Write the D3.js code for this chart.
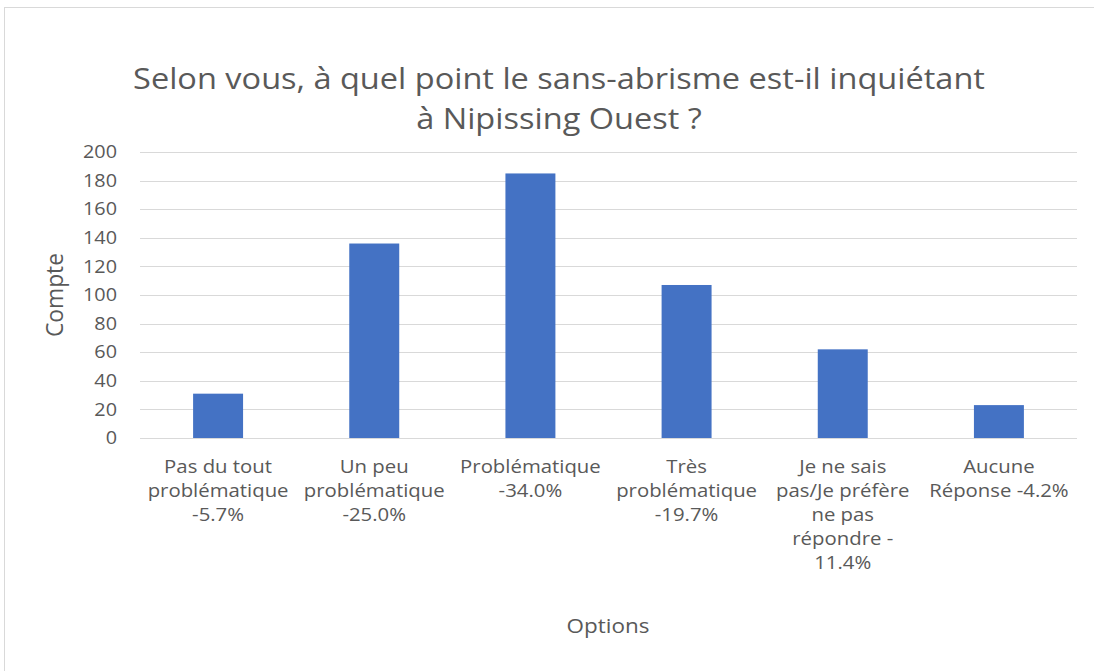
<!DOCTYPE html>
<html><head><meta charset="utf-8">
<script src="https://cdn.jsdelivr.net/npm/d3@7"></script>
<style>html,body{margin:0;padding:0;background:#fff;}svg{display:block;}</style>
</head><body>
<script>
const categories = ["Pas du tout problématique -5.7%","Un peu problématique -25.0%","Problématique -34.0%","Très problématique -19.7%","Je ne sais pas/Je préfère ne pas répondre - 11.4%","Aucune Réponse -4.2%"];
const labelLines = [
  ["Pas du tout","problématique","-5.7%"],
  ["Un peu","problématique","-25.0%"],
  ["Problématique","-34.0%"],
  ["Très","problématique","-19.7%"],
  ["Je ne sais","pas/Je préfère","ne pas","répondre -","11.4%"],
  ["Aucune","Réponse -4.2%"]
];
const counts = [31,136,185,107,62,23];
const yTicks = [0,20,40,60,80,100,120,140,160,180,200];
const titleLines = ["Selon vous, à quel point le sans-abrisme est-il inquiétant","à Nipissing Ouest ?"];
const xTitle = "Options", yTitle = "Compte";

const W=1094,H=671;
const font = "'Open Sans', sans-serif";
const txt = "#595959";
const svg = d3.select("body").append("svg").attr("width",W).attr("height",H);
svg.append("rect").attr("x",4.5).attr("y",7.5).attr("width",1200).attr("height",800)
  .attr("fill","#fff").attr("stroke","#d9d9d9").attr("stroke-width",1);

function stretch(sample, fs, targetW){
  const t=svg.append("text").attr("font-family",font).attr("font-size",fs).text(sample);
  const w=t.node().getComputedTextLength(); t.remove();
  return targetW/w;
}
const fsTitle=29.5, kTitle=stretch(titleLines[0], fsTitle, 852);
const fsCat=17.5, kCat=stretch("problématique", fsCat, 141);
const fsTick=17.5, kTick=stretch("200", fsTick, 34);
const fsAxis=19.5, kAxis=stretch(xTitle, fsAxis, 83);
const fsY = 19.5*stretch(yTitle, 19.5, 84);

const m={l:140,r:1077,t:152,b:438};
const x=d3.scaleBand().domain(categories).range([m.l,m.r]).paddingInner(0.68).paddingOuter(0.34);
const y=d3.scaleLinear().domain([0,200]).range([m.b,m.t]);

svg.append("g").selectAll("line").data(yTicks).join("line")
  .attr("x1",m.l).attr("x2",m.r).attr("y1",d=>Math.round(y(d))+0.5).attr("y2",d=>Math.round(y(d))+0.5)
  .attr("stroke","#d9d9d9").attr("stroke-width",1);

svg.append("g").selectAll("rect").data(counts).join("rect")
  .attr("x",(d,i)=>x(categories[i])).attr("width",x.bandwidth())
  .attr("y",d=>y(d)).attr("height",d=>y(0)-y(d)).attr("fill","#4472C4");

const ya=svg.append("g").attr("transform",`translate(${m.l},0)`)
  .call(d3.axisLeft(y).tickValues(yTicks).tickSize(0).tickPadding(23));
ya.select(".domain").remove();
ya.selectAll("text").attr("font-family",font).attr("font-size",fsTick).attr("fill",txt)
  .attr("x",0).attr("transform",`translate(-23,0) scale(${kTick},1)`);

const xa=svg.append("g").attr("transform",`translate(0,${m.b})`)
  .call(d3.axisBottom(x).tickSize(0).tickFormat(""));
xa.select(".domain").remove();
xa.selectAll(".tick").each(function(d,i){
  const t=d3.select(this).append("text").attr("font-family",font).attr("font-size",fsCat)
    .attr("fill",txt).attr("text-anchor","middle").attr("transform",`scale(${kCat},1)`);
  labelLines[i].forEach((s,j)=>t.append("tspan").attr("x",0).attr("y",35+j*24).text(s));
});

const tt=svg.append("text").attr("font-family",font).attr("font-size",fsTitle).attr("fill",txt)
  .attr("text-anchor","middle").attr("transform",`translate(559,0) scale(${kTitle},1)`);
titleLines.forEach((s,j)=>tt.append("tspan").attr("x",0).attr("y",89+j*40).text(s));
svg.append("text").attr("text-anchor","middle").attr("transform",`translate(608,633) scale(${kAxis},1)`)
  .attr("font-family",font).attr("font-size",fsAxis).attr("fill",txt).text(xTitle);
svg.append("text").attr("transform","translate(63,295) rotate(-90)").attr("text-anchor","middle")
  .attr("font-family",font).attr("font-size",fsY).attr("fill",txt).text(yTitle);
</script>
</body></html>
